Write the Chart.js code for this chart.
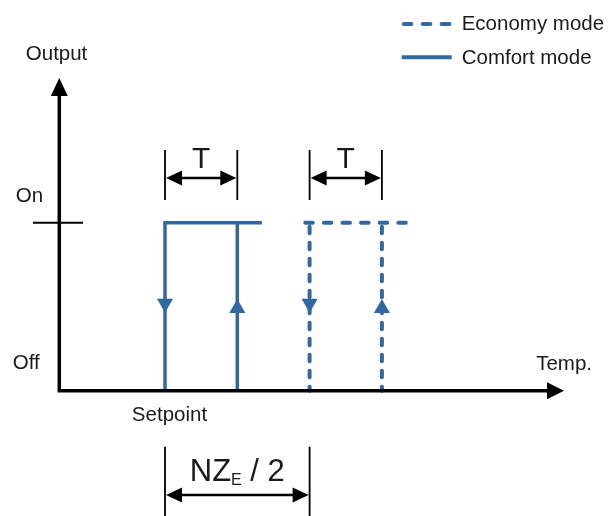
<!DOCTYPE html>
<html><head><meta charset="utf-8">
<script src="https://cdn.jsdelivr.net/npm/chart.js@4.4.1/dist/chart.umd.min.js"></script>
<style>html,body{margin:0;padding:0;background:#fff}#wrap{width:610px;height:516px;position:relative}</style>
</head><body><div id="wrap"><canvas id="c"></canvas></div>
<script>
// ---- data (temperature in units of hysteresis T, setpoint = 0; output Off = 0, On = 1) ----
const levelLabels = ['Off', 'On'];
const levelValues = [0, 1];
const seriesNames = ['Economy mode', 'Comfort mode'];
const axisNames = ['Output', 'Temp.'];
const setpointLabel = 'Setpoint';
const comfortSwitch = [0, 1];      // falling (switch off) / rising (switch on)
const economySwitch = [2, 3];      // shifted by NZ_E / 2
const comfortTopX = [0, 1.34];
const economyTopX = [1.94, 3.4];
const arrowLevels = [0.52, 0.49];  // down-arrow level, up-arrow level
const xAxisRange = [-1.462, 5.519];
const yAxisRange = [0, 1.861];
const onTickX = [-1.826, -1.134];

const BLUE = '#3069a2';
const INK = '#1a1a1a';
const FONT = "'Liberation Sans', Arial, sans-serif";

const pt = (x, y) => ({x, y});

const datasets = [
  { // axes
    data: [pt(xAxisRange[0], yAxisRange[1] - 0.1), pt(xAxisRange[0], 0), pt(xAxisRange[1] - 0.12, 0)],
    borderColor: '#000', borderWidth: 3.5, borderJoinStyle: 'miter', order: 0
  },
  { // On tick
    data: [pt(onTickX[0], levelValues[1]), pt(onTickX[1], levelValues[1])],
    borderColor: '#000', borderWidth: 2, order: 0
  },
  { // comfort: top + falling edge
    data: [pt(comfortTopX[1], 1), pt(comfortSwitch[0], 1), pt(comfortSwitch[0], 0)],
    borderColor: BLUE, borderWidth: 3.5, borderJoinStyle: 'miter', order: 2
  },
  { // comfort: rising edge
    data: [pt(comfortSwitch[1], 0), pt(comfortSwitch[1], 1)],
    borderColor: BLUE, borderWidth: 3.5, order: 2
  },
  { // economy: top
    data: [pt(economyTopX[0], 1), pt(economyTopX[1], 1)],
    borderColor: BLUE, borderWidth: 4, borderDash: [7.5, 11.1], borderCapStyle: 'round', order: 2
  },
  { // economy: falling edge
    data: [pt(economySwitch[0], 1), pt(economySwitch[0], 0)],
    borderColor: BLUE, borderWidth: 4, borderDash: [6.5, 9.5], borderDashOffset: -4, borderCapStyle: 'round', order: 2
  },
  { // economy: rising edge
    data: [pt(economySwitch[1], 1), pt(economySwitch[1], 0)],
    borderColor: BLUE, borderWidth: 4, borderDash: [6.5, 9.5], borderDashOffset: -4, borderCapStyle: 'round', order: 2
  },
  { // direction arrows
    data: [pt(comfortSwitch[0], arrowLevels[0]), pt(comfortSwitch[1], arrowLevels[1]),
           pt(economySwitch[0], arrowLevels[0]), pt(economySwitch[1], arrowLevels[1])],
    showLine: false, pointStyle: 'triangle', pointRadius: 9.3, pointRotation: [180, 0, 180, 0],
    backgroundColor: BLUE, borderColor: BLUE, borderWidth: 0, order: 1
  }
];

function head(ctx, tx, ty, dx, dy, len, hw) {
  const bx = tx - dx * len, by = ty - dy * len;
  ctx.beginPath();
  ctx.moveTo(tx, ty);
  ctx.lineTo(bx - dy * hw, by + dx * hw);
  ctx.lineTo(bx + dy * hw, by - dx * hw);
  ctx.closePath();
  ctx.fill();
}

function dimension(ctx, X, Y, x0, x1, yTop, yBot, yArrow) {
  const a = X(x0), b = X(x1), yy = Y(yArrow);
  ctx.strokeStyle = '#000'; ctx.fillStyle = '#000';
  ctx.lineWidth = 1.8;
  ctx.beginPath();
  ctx.moveTo(a, Y(yTop)); ctx.lineTo(a, Y(yBot));
  ctx.moveTo(b, Y(yTop)); ctx.lineTo(b, Y(yBot));
  ctx.stroke();
  ctx.lineWidth = 2.6;
  ctx.beginPath();
  ctx.moveTo(a + 8, yy); ctx.lineTo(b - 8, yy);
  ctx.stroke();
  head(ctx, a + 1, yy, -1, 0, 16, 7.5);
  head(ctx, b - 1, yy, 1, 0, 16, 7.5);
}

const annotate = {
  id: 'annotate',
  afterDatasetsDraw(chart) {
    const ctx = chart.ctx;
    const X = v => chart.scales.x.getPixelForValue(v);
    const Y = v => chart.scales.y.getPixelForValue(v);
    ctx.save();
    // axis arrowheads
    ctx.fillStyle = '#000';
    head(ctx, X(xAxisRange[0]), Y(yAxisRange[1]), 0, -1, 18, 8.5);
    head(ctx, X(xAxisRange[1]), Y(0), 1, 0, 17, 8.5);

    // T dimensions
    [comfortSwitch, economySwitch].forEach(s => {
      dimension(ctx, X, Y, s[0], s[1], 1.432, 1.135, 1.266);
      ctx.fillStyle = INK;
      ctx.font = '30px ' + FONT;
      ctx.textAlign = 'center'; ctx.textBaseline = 'alphabetic';
      ctx.fillText('T', (X(s[0]) + X(s[1])) / 2, Y(1.326));
    });

    // NZ_E / 2 dimension
    dimension(ctx, X, Y, comfortSwitch[0], economySwitch[0], -0.333, -0.8, -0.621);
    {
      const big = '31px ' + FONT, small = '16px ' + FONT;
      ctx.font = big; const w1 = ctx.measureText('NZ').width, w3 = ctx.measureText(' / 2').width;
      ctx.font = small; const w2 = ctx.measureText('E').width;
      const total = w1 + w2 + w3;
      let x = (X(comfortSwitch[0]) + X(economySwitch[0])) / 2 - total / 2;
      const base = Y(-0.536);
      ctx.fillStyle = INK; ctx.textAlign = 'left'; ctx.textBaseline = 'alphabetic';
      ctx.font = big; ctx.fillText('NZ', x, base); x += w1;
      ctx.font = small; ctx.fillText('E', x, base + 4.3); x += w2;
      ctx.font = big; ctx.fillText(' / 2', x, base);
    }

    // labels
    ctx.fillStyle = INK; ctx.textAlign = 'center'; ctx.textBaseline = 'alphabetic';
    ctx.font = '20.5px ' + FONT;
    ctx.fillText(axisNames[0], X(-1.5), Y(1.968));
    ctx.fillText(levelLabels[1], X(-1.874), Y(1.125));
    ctx.fillText(levelLabels[0], X(-1.92), Y(0.127));
    ctx.fillText(axisNames[1], X(5.52), Y(0.123));
    ctx.fillText(setpointLabel, X(0.062), Y(-0.179));

    // legend
    ctx.strokeStyle = BLUE; ctx.lineWidth = 4;
    ctx.lineCap = 'round'; ctx.setLineDash([7.7, 11.3]);
    ctx.beginPath(); ctx.moveTo(403.7, 24); ctx.lineTo(450, 24); ctx.stroke();
    ctx.setLineDash([]); ctx.lineCap = 'butt';
    ctx.beginPath(); ctx.moveTo(401.7, 57.3); ctx.lineTo(451.7, 57.3); ctx.stroke();
    ctx.textAlign = 'left';
    ctx.fillText(seriesNames[0], 461.7, 30);
    ctx.fillText(seriesNames[1], 461.7, 64);
    ctx.restore();
  }
};

new Chart(document.getElementById('c'), {
  type: 'scatter',
  data: { datasets: datasets.map(d => Object.assign({ showLine: d.showLine !== false, pointRadius: 0, fill: false, tension: 0 }, d)) },
  options: {
    responsive: true, maintainAspectRatio: false, animation: false,
    layout: { padding: 0, autoPadding: false },
    plugins: { legend: { display: false }, tooltip: { enabled: false }, title: { display: false } },
    scales: {
      x: { type: 'linear', display: false, min: -165 / 72.3, max: (610 - 165) / 72.3 },
      y: { type: 'linear', display: false, min: -(516 - 390.7) / 168, max: 390.7 / 168 }
    }
  },
  plugins: [annotate]
});
</script>
</body></html>
